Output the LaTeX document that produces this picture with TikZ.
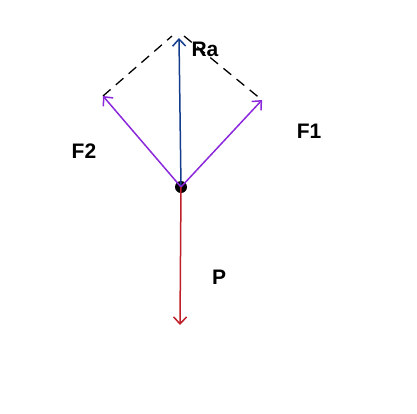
\documentclass[tikz,border=0pt]{standalone}
\usepackage{fontspec}
\setmainfont{Liberation Sans}
\usetikzlibrary{arrows.meta}
\definecolor{vb}{RGB}{20,60,140}
\definecolor{vf}{RGB}{140,40,220}
\definecolor{vp}{RGB}{190,30,40}

\begin{document}
\begin{tikzpicture}[
    x=1pt, y=-1pt,
    font=\fontsize{21}{25}\selectfont\bfseries,
    v/.style={
        line width=1.5pt,
        -{Straight Barb[length=7pt,width=13pt]}
    },
    d/.style={dashed, dash pattern=on 10pt off 7pt, line width=1.3pt},
    pt/.style={circle, fill=black, inner sep=0pt, minimum size=12pt}
]
\useasboundingbox (0,0) rectangle (417,413);

\node [pt] (O) at (181,187) {};
\coordinate (Ra) at (179,38);
\coordinate (F2) at (103,96);
\coordinate (F1) at (262,100);
\coordinate (P) at (180,325);

\draw [d] (F2) -- (172,36);
\draw [d] (184,36) -- (F1);

\draw [v,vb] (O.center) -- (Ra);
\draw [v,vf] (O.center) -- (F2);
\draw [v,vf] (O.center) -- (F1);
\draw [v,vp] (O.center) -- (P);

\node (lRa) at (205,49) {Ra};
\node (lF1) at (309,131) {F1};
\node (lF2) at (84,151) {F2};
\node (lP) at (219,277) {P};

\end{tikzpicture}
\end{document}
